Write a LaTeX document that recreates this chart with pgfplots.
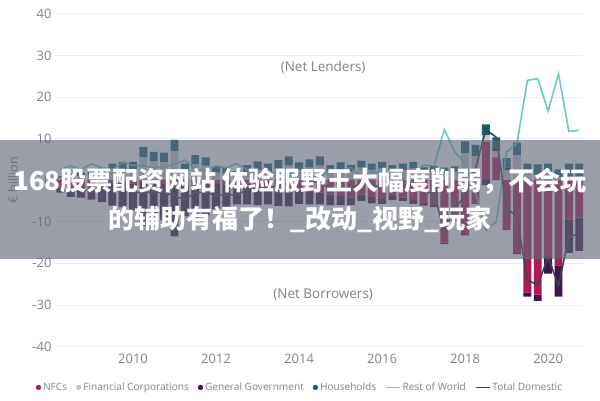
\documentclass[border=0pt]{standalone}
\usepackage{pgfplots}
\pgfplotsset{compat=1.18}
\usepackage{pgfplotstable}
\usepackage{fontspec}
\setmainfont{Open Sans}
\newfontfamily\cjk{Noto Sans CJK SC}

\definecolor{nfc}{RGB}{176,24,88}
\definecolor{fin}{RGB}{200,200,204}
\definecolor{gov}{RGB}{62,22,72}
\definecolor{hh}{RGB}{22,96,116}
\definecolor{rowc}{RGB}{112,200,194}
\definecolor{tdc}{RGB}{58,68,78}
\definecolor{txt}{RGB}{130,130,130}
\definecolor{gridc}{RGB}{236,236,236}
\definecolor{bannerc}{RGB}{98,106,122}

\pgfplotstableread{
t       nfc    fin   gov    hh    row    td
2008.25 -1.8   0.6  -1.2   0.4   2.6   -2.0
2008.50 -2.2   0.8  -1.8   0.6   3.4   -2.6
2008.75 -1.6   1.0  -2.6   0.8   2.6   -2.4
2009.00 -1.2   1.2  -3.5   1.0   3.9   -2.5
2009.25 -0.8   1.6  -4.5   1.4   3.0   -2.3
2009.50 -0.6   2.2  -5.5   1.8   2.4   -2.1
2009.75 -0.5   2.5  -6.0   1.9   4.3   -2.1
2010.00 -0.8   2.6  -6.5   1.8   3.6   -2.9
2010.25 -0.5   5.5  -10.5  2.5   3.4   -3.0
2010.50 -0.6   4.5  -9.0   2.3   3.0   -2.8
2010.75 -0.8   4.3  -8.8   2.3   3.2   -3.0
2011.00 -1.0   7.0  -12.5  2.7   3.8   -3.8
2011.25 -1.2   2.2  -7.5   1.8   4.8   -4.7
2011.50 -1.0   3.8  -8.0   2.2   2.6   -3.0
2011.75 -0.8   3.5  -7.6   2.0   2.4   -2.9
2012.00 -0.9   1.8  -6.0   1.4   3.4   -3.7
2012.25 -1.0   1.6  -5.5   1.4   3.0   -3.5
2012.50 -0.8   1.0  -5.0   1.2   4.0   -3.6
2012.75 -0.8   2.0  -5.0   1.6   2.4   -2.2
2013.00 -1.5   2.5  -4.5   2.0   1.8   -1.5
2013.25 -1.8   2.2  -4.0   1.8   2.2   -1.8
2013.50 -2.0   2.8  -4.2   2.0   1.6   -1.4
2013.75 -2.5   3.5  -3.8   2.2   1.0   -0.6
2014.00 -2.2   2.5  -3.5   1.8   1.6   -1.4
2014.25 -2.8   3.0  -3.0   2.0   1.2   -0.8
2014.50 -3.0   3.5  -2.8   2.2   0.6   -0.1
2014.75 -3.5   2.0  -2.5   1.6   2.6   -2.4
2015.00 -3.8   2.5  -2.2   1.8   2.2   -1.7
2015.25 -4.2   2.2  -1.8   1.5   3.0   -2.3
2015.50 -3.5   3.0  -1.5   1.7   0.8   -0.3
2015.75 -4.0   2.5  -1.6   1.5   2.0   -1.6
2016.00 -4.5   2.8  -1.2   1.6   1.8   -1.3
2016.25 -3.8   2.2  -1.0   1.4   1.6   -1.2
2016.50 -4.2   2.5  -0.8   1.5   1.4   -1.0
2016.75 -4.8   2.8  -0.9   1.6   2.0   -1.3
2017.00 -5.5   1.8  -0.6   1.3   3.6   -3.0
2017.25 -6.0   2.0  -0.5   1.4   3.4   -3.1
2017.50 -15.0  1.8  -0.4   1.2   12.2  -12.4
2017.75 -9.5   2.0  -0.3   1.3   6.8   -6.5
2018.00 -13.0  6.5  -0.3   2.8   4.0   -4.0
2018.25 -5.5   5.8  -0.2   2.7   -3.0   2.8
2018.50  9.2   1.6  -1.2   2.6   -12.0  12.2
2018.75  5.5   1.5   0.5   2.8   -10.0  10.3
2019.00 -12.0  2.5   0.5   2.3   6.8   -6.7
2019.25 -17.5  6.0  -0.3   3.0   8.8   -8.8
2019.50 -27.0  1.5  -1.0   2.5   24.0  -24.0
2019.75 -27.5  1.2  -1.5   2.6   24.4  -25.2
2020.00 -18.5  1.5  -4.0   2.5   16.6  -18.5
2020.25 -20.5  0.8  -7.5   1.8   25.6  -25.4
2020.50 -9.5   1.0  -8.0   3.0   11.7  -13.5
2020.75 -9.0   1.0  -8.0   3.0   12.0  -13.0
}\data

\pgfplotsset{base/.style={
  scale only axis, width=528pt, height=332.7pt,
  xmin=2008.12, xmax=2020.84, ymin=-40, ymax=40,
  at={(55pt,53.5pt)}, anchor=south west,
  axis line style={draw=none}, major tick length=0pt,
  bar width=0.19,
}}

\begin{document}
\begin{tikzpicture}
\useasboundingbox (0,0) rectangle (600pt,400pt);
% positive stacks, grid, ticks
\begin{axis}[base, ybar stacked,
  ytick={-40,-30,...,40}, xtick={2010,2012,...,2020},
  ymajorgrids, grid style={gridc, line width=0.7pt},
  /pgf/number format/assume math mode=true,
  /pgf/number format/1000 sep={},
  tick label style={font=\fontsize{13}{14}\selectfont, text=txt},
  xticklabel style={yshift=-4pt},
  ylabel={€ billion},
  every axis y label/.style={at={(axis description cs:-0.0795,0.5)}, rotate=90, anchor=center, font=\fontsize{12.5}{13}\selectfont, text=txt},
]
\addplot[fill=nfc, draw=none] table[x=t, y expr={max(\thisrow{nfc},0)}] {\data};
\addplot[fill=fin, draw=none] table[x=t, y expr={max(\thisrow{fin},0)}] {\data};
\addplot[fill=gov, draw=none] table[x=t, y expr={max(\thisrow{gov},0)}] {\data};
\addplot[fill=hh, draw=none] table[x=t, y expr={max(\thisrow{hh},0)}] {\data};
\node[font=\fontsize{13.5}{14}\selectfont, text=txt] at (axis cs:2014.58,27.1) {(Net Lenders)};
\node[font=\fontsize{13.5}{14}\selectfont, text=txt] at (axis cs:2014.58,-27.5) {(Net Borrowers)};
\end{axis}
% negative stacks
\begin{axis}[base, ybar stacked, hide axis]
\addplot[fill=nfc, draw=none] table[x=t, y expr={min(\thisrow{nfc},0)}] {\data};
\addplot[fill=fin, draw=none] table[x=t, y expr={min(\thisrow{fin},0)}] {\data};
\addplot[fill=gov, draw=none] table[x=t, y expr={min(\thisrow{gov},0)}] {\data};
\addplot[fill=hh, draw=none] table[x=t, y expr={min(\thisrow{hh},0)}] {\data};
\end{axis}
% lines and legend
\begin{axis}[base, hide axis,
  legend style={at={(axis description cs:0.464,-0.123)}, anchor=center, draw=none, fill=none,
    font=\fontsize{10.1}{10.5}\selectfont, text=txt, legend columns=-1,
    /tikz/every odd column/.style={column sep=0pt},
    /tikz/every even column/.style={column sep=7pt}},
  legend entries={NFCs, Financial Corporations, General Government, Households, Rest of World, Total Domestic},
]
\addlegendimage{legend image code/.code={\fill[nfc] (0pt,0pt) circle (2.4pt);}}
\addlegendimage{legend image code/.code={\fill[fin] (0pt,0pt) circle (2.4pt);}}
\addlegendimage{legend image code/.code={\fill[gov] (0pt,0pt) circle (2.4pt);}}
\addlegendimage{legend image code/.code={\fill[hh] (0pt,0pt) circle (2.4pt);}}
\addplot[rowc, line width=1.6pt, no marks, legend image code/.code={\draw[rowc, line width=1.6pt] (0pt,0pt) -- (14pt,0pt);}] table[x=t, y=row] {\data};
\addplot[tdc, line width=1.6pt, no marks, legend image code/.code={\draw[tdc, line width=1.6pt] (0pt,0pt) -- (14pt,0pt);}] table[x=t, y=td] {\data};
\end{axis}
% overlay banner
\fill[bannerc, opacity=0.65] (0pt,141pt) rectangle (600pt,260pt);
\node[text=white, font=\cjk\bfseries\fontsize{26}{38}\selectfont, align=center] at (300pt,200pt)
  {168股票配资网站 体验服野王大幅度削弱，不会玩\\的辅助有福了！\_改动\_视野\_玩家};
\end{tikzpicture}
\end{document}
